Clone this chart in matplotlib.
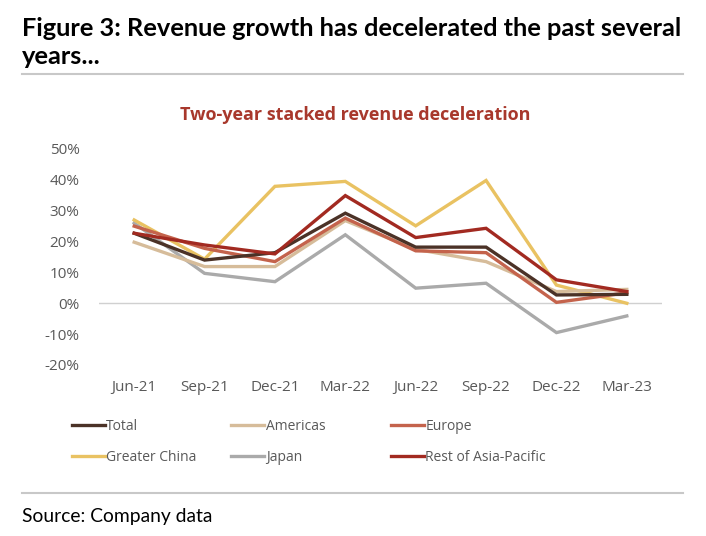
import matplotlib
matplotlib.use("Agg")
import matplotlib.pyplot as plt
from matplotlib.ticker import PercentFormatter

quarters = ["Jun-21", "Sep-21", "Dec-21", "Mar-22", "Jun-22", "Sep-22", "Dec-22", "Mar-23"]

# two-year stacked revenue growth, %
total = [22.7, 14.0, 16.4, 29.2, 18.2, 18.2, 2.7, 2.9]
americas = [19.8, 11.9, 11.9, 26.8, 17.5, 13.5, 3.8, 4.5]
europe = [25.0, 17.8, 13.5, 27.6, 17.0, 16.4, 0.3, 3.4]
greater_china = [27.0, 14.3, 37.9, 39.5, 25.1, 39.8, 5.9, 0.0]
japan = [26.0, 9.7, 7.0, 22.2, 4.9, 6.5, -9.5, -4.1]
rest_apac = [22.7, 18.9, 16.0, 34.9, 21.3, 24.3, 7.6, 3.8]

plt.rcParams['font.family'] = ['Open Sans', 'DejaVu Sans']
plt.rcParams['axes.unicode_minus'] = False

W, H = 706, 536
fig = plt.figure(figsize=(W / 100, H / 100), dpi=100)
ax = fig.add_axes([99 / W, 1 - 365 / H, 563 / W, 216 / H])

x = range(len(quarters))
series = {
    "Total": (total, "#4b3227"),
    "Americas": (americas, "#d6bc9a"),
    "Europe": (europe, "#c4634c"),
    "Greater China": (greater_china, "#e9c262"),
    "Japan": (japan, "#aaaaaa"),
    "Rest of Asia-Pacific": (rest_apac, "#a22a21"),
}
# draw order so the darker lines sit on top like the original
draw_order = ["Japan", "Greater China", "Americas", "Europe", "Total", "Rest of Asia-Pacific"]
lines = {}
for name in draw_order:
    vals, col = series[name]
    (ln,) = ax.plot(x, vals, color=col, lw=2.4, label=name, solid_joinstyle="miter")
    lines[name] = ln

ax.axhline(0, color="#d0d0d0", lw=1, zorder=0)
ax.set_xlim(-0.5, len(quarters) - 0.5)
ax.set_ylim(-20, 50)
ax.set_yticks(range(-20, 51, 10))
ax.yaxis.set_major_formatter(PercentFormatter(decimals=0))
ax.set_xticks(list(x))
ax.set_xticklabels(quarters)
ax.tick_params(length=0, labelsize=11, colors="#595959")
ax.tick_params(axis="y", pad=14)
ax.tick_params(axis="x", pad=11)
for sp in ax.spines.values():
    sp.set_visible(False)

# legend: three evenly spaced columns
cols = [["Total", "Greater China"], ["Americas", "Japan"], ["Europe", "Rest of Asia-Pacific"]]
for i, names in enumerate(cols):
    leg = fig.legend([lines[n] for n in names], names, loc="upper left",
                     bbox_to_anchor=((66 + 159.5 * i) / W, 1 - 413 / H),
                     frameon=False, fontsize=10, handlelength=2.4, handletextpad=0.1,
                     labelspacing=1.2, borderaxespad=0)
    for t in leg.get_texts():
        t.set_color("#595959")

fig.text(355 / W, 1 - 115 / H, "Two-year stacked revenue deceleration",
         ha="center", va="center", fontsize=13, fontweight="bold", color="#a8382c")

# header / footer in a narrower humanist face, sized to the reference width
t1 = fig.text(22 / W, 1 - 36 / H, "Figure 3: Revenue growth has decelerated the past several",
              ha="left", va="baseline", fontsize=17, fontweight="bold", family=["Lato", "Open Sans"])
t2 = fig.text(22 / W, 1 - 64 / H, "years...",
              ha="left", va="baseline", fontsize=17, fontweight="bold", family=["Lato", "Open Sans"])
src = fig.text(22 / W, 1 - 522 / H, "Source: Company data", ha="left", va="baseline",
               fontsize=13, family=["Lato", "Open Sans"])

r = fig.canvas.get_renderer()
scale = 661 / t1.get_window_extent(r).width
t1.set_fontsize(17 * scale)
t2.set_fontsize(17 * scale)
src.set_fontsize(13 * 190 / src.get_window_extent(r).width)

fig.add_artist(plt.Line2D([22 / W, 683 / W], [1 - 74 / H] * 2, color="#c8c8c8", lw=1.5))
fig.add_artist(plt.Line2D([22 / W, 683 / W], [1 - 493 / H] * 2, color="#c8c8c8", lw=1.5))

fig.savefig("out.png", dpi=100)
